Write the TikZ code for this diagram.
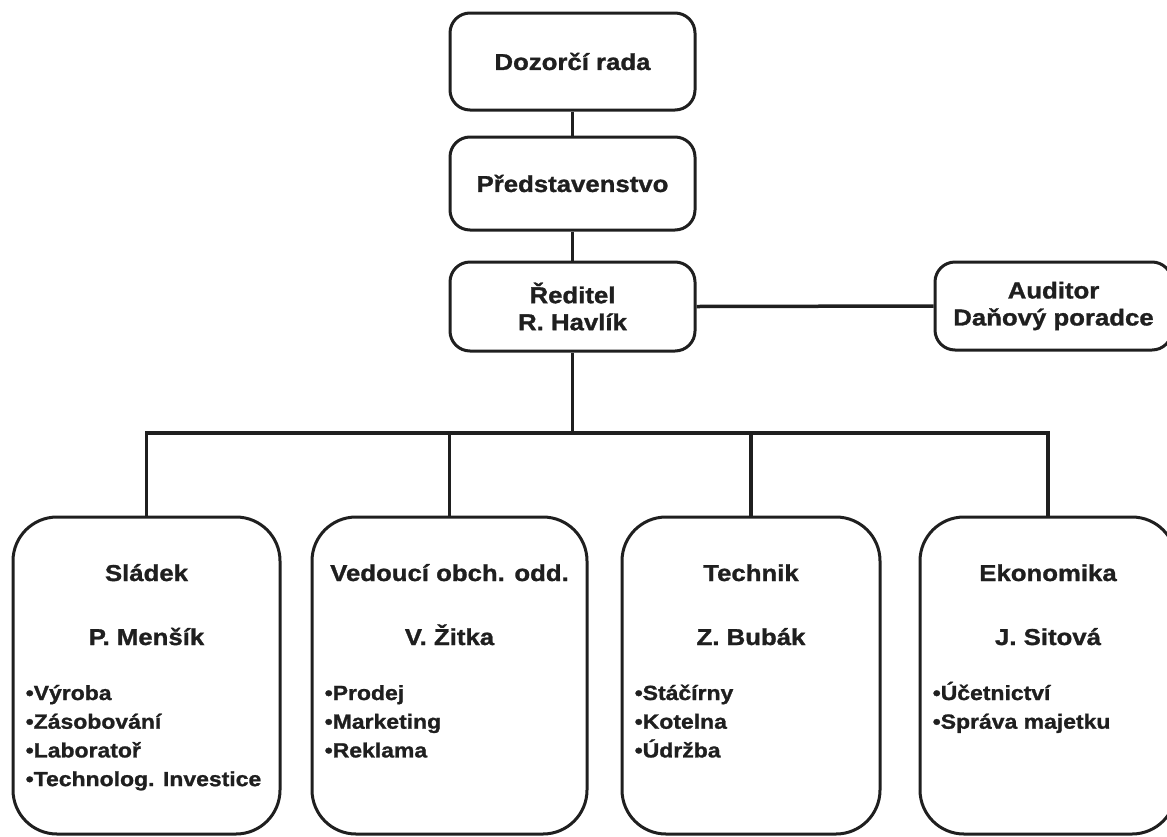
\documentclass[tikz,border=0pt]{standalone}
\usepackage{fontspec}
\setmainfont{Liberation Sans}[FakeStretch=1.12, BoldFeatures={FakeBold=1.2}]
\begin{document}
\begin{tikzpicture}[x=1pt,y=-1pt,
  ink/.style={draw=black!88, line width=3pt},
  topbox/.style={ink, rounded corners=20pt, inner sep=0pt, align=center,
    font=\fontsize{23}{27}\selectfont\bfseries, text=black!88},
  deptbox/.style={ink, rounded corners=44pt, inner sep=0pt, minimum height=317pt},
  link/.style={draw=black!88, line width=3.5pt},
  headtxt/.style={anchor=base, inner sep=0pt, font=\fontsize{23}{27}\selectfont\bfseries, text=black!88},
  itemtxt/.style={anchor=base west, inner sep=0pt, font=\fontsize{20.5}{24}\selectfont\bfseries, text=black!88}]
\useasboundingbox (0,0) rectangle (1167,836);

% upper chain of governing bodies
\node[topbox, minimum width=245pt, minimum height=97pt] (dozor) at (572.5,61.5) {Dozorčí rada};
\node[topbox, minimum width=245pt, minimum height=93pt] (pred) at (572.5,183.5) {Představenstvo};
\node[topbox, minimum width=245pt, minimum height=89pt] (red) at (572.5,306.5) {Ředitel\\R. Havlík};
\node[topbox, minimum width=237pt, minimum height=88pt] (aud) at (1053.5,306) {Auditor\\Daňový poradce};

% departments
\node[deptbox, minimum width=267pt] (d1) at (146.5,675.5) {};
\node[deptbox, minimum width=275pt] (d2) at (449.5,675.5) {};
\node[deptbox, minimum width=258pt] (d3) at (751,675.5) {};
\node[deptbox, minimum width=256pt] (d4) at (1048,675.5) {};

% connectors
\draw[link] (dozor.south) -- (pred.north);
\draw[link] (pred.south) -- (red.north);
\draw[link] (red.east) -- (aud.west);
\coordinate (bus) at (572.5,433);
\draw[link] (red.south) -- (bus);
\draw[link, line cap=rect] (d1.north |- bus) -- (d4.north |- bus);
\foreach \d in {d1,d2,d3,d4}
  \draw[link] (\d.north |- bus) -- (\d.north);

% department heads and their sections
\foreach \d/\title/\name in {d1/Sládek/P. Menšík, d2/Vedoucí obch. odd./V. Žitka,
    d3/Technik/Z. Bubák, d4/Ekonomika/J. Sitová} {
  \node[headtxt] (\d-t) at (\d.center |- 0,581) {\title};
  \node[headtxt] (\d-n) at (\d.center |- 0,645) {\name};
}
\foreach \d/\items in {d1/{Výroba,Zásobování,Laboratoř,Technolog. Investice},
    d2/{Prodej,Marketing,Reklama}, d3/{Stáčírny,Kotelna,Údržba},
    d4/{Účetnictví,Správa majetku}} {
  \foreach \it [count=\k] in \items
    \node[itemtxt] (\d-i\k) at ([xshift=14pt]\d.west |- 0,{700+28.7*(\k-1)}) {•\it};
}
\end{tikzpicture}
\end{document}
